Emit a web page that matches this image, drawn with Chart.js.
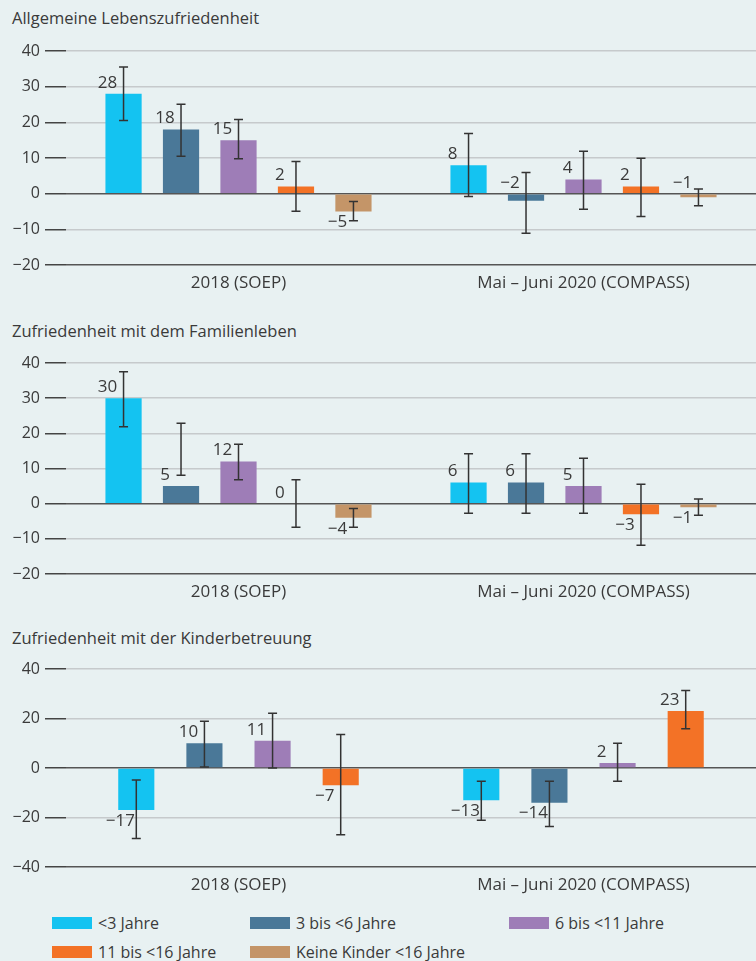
<!DOCTYPE html>
<html lang="de">
<head>
<meta charset="UTF-8">
<title>Zufriedenheit nach Alter des jüngsten Kindes</title>
<script src="https://cdn.jsdelivr.net/npm/chart.js"></script>
<style>
    body { margin: 0; background: #e8f1f2; font-family: "Open Sans", sans-serif; color: #3a3a3a; }
    #seite { position: relative; width: 756px; height: 961px; overflow: hidden; }
    .titel { position: absolute; left: 12px; font-size: 16.5px; line-height: 20px; white-space: nowrap; }
    canvas { position: absolute; left: 0; }
    #legende { position: absolute; left: 52px; top: 914px; display: grid; grid-template-columns: 198px 259px auto; row-gap: 11px; font-size: 16px; line-height: 18px; }
    .eintrag { display: flex; align-items: center; white-space: nowrap; }
    .farbe { width: 40px; height: 12px; margin-right: 6px; }
</style>
</head>
<body>
<div id="seite">
    <div class="titel" style="top:8px">Allgemeine Lebenszufriedenheit</div>
    <div class="titel" style="top:321px">Zufriedenheit mit dem Familienleben</div>
    <div class="titel" style="top:628px">Zufriedenheit mit der Kinderbetreuung</div>
    <canvas id="leben"></canvas>
    <canvas id="familie"></canvas>
    <canvas id="betreuung"></canvas>
    <div id="legende"></div>
</div>

<script>
// Kategorien und Reihen
const gruppen = ["2018 (SOEP)", "Mai \u2013 Juni 2020 (COMPASS)"];
const serien = ["<3 Jahre", "3 bis <6 Jahre", "6 bis <11 Jahre", "11 bis <16 Jahre", "Keine Kinder <16 Jahre"];
const farben = ["#14c3f1", "#4a7898", "#9e7db7", "#f37226", "#c49568"];

// Werte je Reihe: [2018, 2020]
const lebenWerte = [[28, 8], [18, -2], [15, 4], [2, 2], [-5, -1]];
const lebenUnten = [[20.5, -0.8], [10.5, -11.1], [9.8, -4.4], [-4.9, -6.4], [-7.6, -3.4]];
const lebenOben = [[35.5, 16.9], [25.1, 5.9], [20.8, 11.9], [9.0, 9.9], [-2.2, 1.3]];

const familieWerte = [[30, 6], [5, 6], [12, 5], [0, -3], [-4, -1]];
const familieUnten = [[21.9, -2.7], [8.1, -2.7], [6.8, -2.7], [-6.7, -11.8], [-6.7, -3.3]];
const familieOben = [[37.5, 14.2], [22.9, 14.2], [16.9, 12.9], [6.8, 5.5], [-1.4, 1.3]];

const betreuungWerte = [[-17, -13], [10, -14], [11, 2], [-7, 23]];
const betreuungUnten = [[-28.5, -21.1], [0.4, -23.6], [0, -5.4], [-27, 15.9]];
const betreuungOben = [[-4.8, -5.4], [18.9, -5.4], [22.1, 10], [13.5, 31.3]];

const ticksZehn = [-20, -10, 0, 10, 20, 30, 40];
const ticksZwanzig = [-40, -20, 0, 20, 40];

function minus(v) {
    return v < 0 ? "\u2212" + Math.abs(v) : String(v);
}

// Fehlerbalken und Wertbeschriftungen
const fehlerPlugin = {
    id: "fehlerbalken",
    afterDatasetsDraw(chart, args, opts) {
        const ctx = chart.ctx;
        const y = chart.scales.y;
        const null0 = y.getPixelForValue(0);
        chart.data.datasets.forEach((ds, i) => {
            chart.getDatasetMeta(i).data.forEach((bar, j) => {
                const lo = y.getPixelForValue(ds.unten[j]);
                const hi = y.getPixelForValue(ds.oben[j]);
                ctx.save();
                ctx.strokeStyle = "#333";
                ctx.lineWidth = 1.5;
                ctx.beginPath();
                ctx.moveTo(bar.x, lo); ctx.lineTo(bar.x, hi);
                ctx.moveTo(bar.x - 4.5, lo); ctx.lineTo(bar.x + 4.5, lo);
                ctx.moveTo(bar.x - 4.5, hi); ctx.lineTo(bar.x + 4.5, hi);
                ctx.stroke();

                const v = ds.data[j];
                let ly;
                if (opts.ueberNull.includes(i + "-" + j)) ly = null0 - 11;
                else if (v >= 0) ly = bar.y - 11;
                else ly = bar.y + 11;
                ctx.fillStyle = "#3a3a3a";
                ctx.font = '17px "Open Sans"';
                ctx.textAlign = "center";
                ctx.textBaseline = "middle";
                ctx.fillText(minus(v), bar.x - 16, ly);
                ctx.restore();
            });
        });
    }
};

function zeichne(id, werte, unten, oben, ticks, top, bottom, catPct, barPct, ueberNull) {
    const canvas = document.getElementById(id);
    const cTop = top - 20;
    canvas.width = 756;
    canvas.height = bottom + 30 - cTop;
    canvas.style.top = cTop + "px";

    const datasets = werte.map((w, s) => ({
        label: serien[s],
        data: w,
        unten: unten[s],
        oben: oben[s],
        backgroundColor: farben[s],
        borderWidth: 0,
        categoryPercentage: catPct,
        barPercentage: barPct
    }));

    new Chart(canvas, {
        type: "bar",
        data: { labels: gruppen, datasets: datasets },
        options: {
            responsive: false,
            animation: false,
            devicePixelRatio: 1,
            layout: { padding: { top: 20, left: 0, right: 0, bottom: 0 } },
            plugins: {
                legend: { display: false },
                tooltip: { enabled: false },
                fehlerbalken: { ueberNull: ueberNull }
            },
            scales: {
                x: {
                    grid: { display: false, drawTicks: false },
                    border: { display: false },
                    ticks: { color: "#3a3a3a", font: { family: "Open Sans", size: 17 }, padding: 8 },
                    afterFit(scale) { scale.height = 30; }
                },
                y: {
                    min: ticks[0],
                    max: ticks[ticks.length - 1],
                    afterBuildTicks(scale) { scale.ticks = ticks.map(v => ({ value: v })); },
                    border: { display: false },
                    grid: {
                        color: c => (c.tick && (c.tick.value === 0 || c.tick.value === ticks[0])) ? "#555" : "#c6cacc",
                        lineWidth: 1.5,
                        tickLength: 21,
                        tickColor: "#444"
                    },
                    ticks: {
                        color: "#3a3a3a",
                        font: { family: "Open Sans", size: 16 },
                        padding: 5,
                        callback: v => minus(v)
                    },
                    afterFit(scale) { scale.width = 66; }
                }
            }
        },
        plugins: [fehlerPlugin]
    });
}

zeichne("leben", lebenWerte, lebenUnten, lebenOben, ticksZehn, 51, 265, 0.833, 0.63, ["1-1", "4-1"]);
zeichne("familie", familieWerte, familieUnten, familieOben, ticksZehn, 363, 574, 0.833, 0.63, []);
zeichne("betreuung", betreuungWerte, betreuungUnten, betreuungOben, ticksZwanzig, 669, 867, 0.79, 0.53, []);

// Legende
const legende = document.getElementById("legende");
serien.forEach((name, s) => {
    const e = document.createElement("div");
    e.className = "eintrag";
    e.innerHTML = '<span class="farbe" style="background:' + farben[s] + '"></span><span></span>';
    e.lastChild.textContent = name;
    legende.appendChild(e);
});
</script>
</body>
</html>
